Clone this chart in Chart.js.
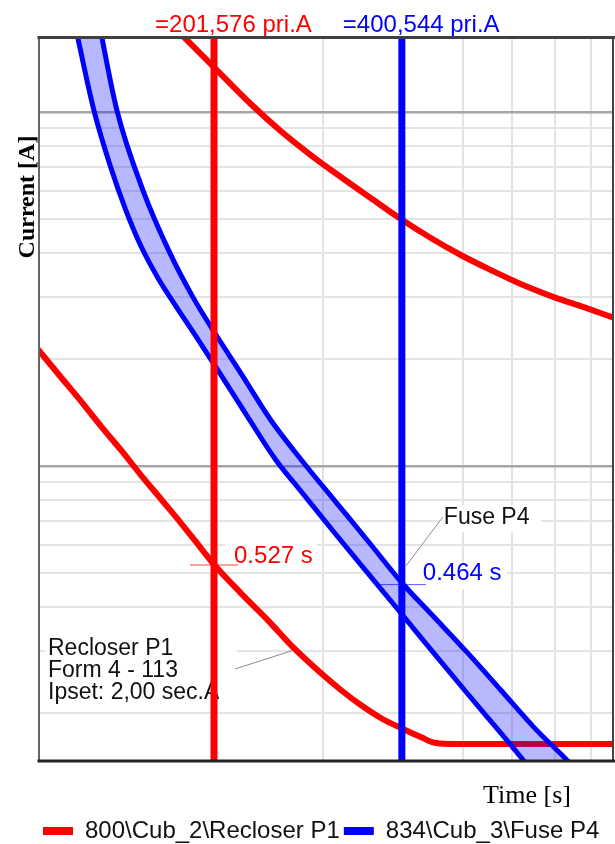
<!DOCTYPE html>
<html>
<head>
<meta charset="utf-8">
<style>
  html, body { margin: 0; padding: 0; background: #ffffff; }
  #wrap { width: 615px; height: 844px; position: relative; }
</style>
<script src="https://cdn.jsdelivr.net/npm/chart.js@4.4.1/dist/chart.umd.min.js"></script>
</head>
<body>
<div id="wrap"><canvas id="c" width="615" height="844"></canvas></div>
<script>
// ---------- axis ranges and grid values ----------
const xMin = 106.3, xMax = 870;
const yMin = 0.1468, yMax = 16.29;
const xGridValues = [200, 300, 400, 500, 600, 700, 800];
const yGridValues = [0.2, 0.3, 0.4, 0.5, 0.6, 0.7, 0.8, 0.9, 1, 2, 3, 4, 5, 6, 7, 8, 9, 10];
const yMajorValues = [1, 10];

// ---------- Recloser P1 (red) fast curve ----------
const reclFastA = [105.5, 115.1, 123.9, 133.3, 143.4, 154.3, 166.0, 178.6, 192.1, 201.576, 222.3, 245.3, 269.8, 297.9, 320.5, 344.8, 370.9, 399.1, 429.3, 453.5, 487.9, 880];
const reclFastT = [2.154, 1.784, 1.526, 1.297, 1.110, 0.943, 0.807, 0.690, 0.5866, 0.527, 0.4377, 0.3672, 0.3062, 0.260, 0.233, 0.2113, 0.1942, 0.182, 0.1716, 0.165, 0.164, 0.164];

// ---------- Recloser P1 (red) slow curve ----------
const reclSlowA = [178.6, 202.2, 230.6, 257.2, 287.1, 320.5, 357.5, 399.1, 445.3, 496.9, 554.3, 618.7, 698.2, 778.9, 890];
const reclSlowT = [16.6, 13.31, 10.535, 8.838, 7.559, 6.552, 5.714, 4.985, 4.406, 3.945, 3.579, 3.266, 3.00, 2.81, 2.585];

// ---------- Fuse P4 (blue) minimum melt curve ----------
const fuseMinA = [120.8, 129.9, 138.3, 146.0, 154.3, 164.2, 175.3, 188.6, 204.4, 228.1, 252.7, 276.8, 312.4, 353.7, 399.1, 450.2, 509.8, 575.0, 627.8, 653.4];
const fuseMinT = [18.2, 10.13, 6.947, 5.286, 4.183, 3.397, 2.831, 2.329, 1.867, 1.375, 1.040, 0.850, 0.651, 0.498, 0.3844, 0.296, 0.2270, 0.1762, 0.1458, 0.1331];

// ---------- Fuse P4 (blue) total clearing curve ----------
const fuseTotA = [132.1, 141.3, 155.4, 171.5, 186.6, 202.2, 222.3, 248.0, 279.9, 314.7, 354.9, 400.5, 450.2, 509.8, 575.0, 648.7, 734.7, 770.4];
const fuseTotT = [18.2, 10.13, 6.02, 4.00, 3.00, 2.375, 1.831, 1.349, 1.0197, 0.791, 0.610, 0.468, 0.375, 0.296, 0.233, 0.183, 0.1468, 0.134];

// ---------- cursors ----------
const redCursorA = 201.576, blueCursorA = 400.544;
const redTripT = 0.527, blueTripT = 0.464;
const redCursorLabel = '=201,576 pri.A';
const blueCursorLabel = '=400,544 pri.A';
const redTripLabel = '0.527 s';
const blueTripLabel = '0.464 s';
const fuseNote = 'Fuse P4';
const reclNote = ['Recloser P1', 'Form 4 - 113', 'Ipset: 2,00 sec.A'];
const legendNames = ['800\\Cub_2\\Recloser P1', '834\\Cub_3\\Fuse P4'];
const xTitle = 'Time [s]';
const yTitle = 'Current [A]';

const pts = (xs, ys) => xs.map((v, i) => ({ x: v, y: ys[i] }));
const band = pts(fuseMinA, fuseMinT).concat(pts(fuseTotA, fuseTotT).reverse());

const SANS = '"Liberation Sans", Arial, sans-serif';
const SERIF = '"Liberation Serif", "Times New Roman", serif';
Chart.defaults.font.family = SANS;

const common = { showLine: true, pointRadius: 0, pointHoverRadius: 0, clip: 0, borderJoinStyle: 'round', fill: false };
const smooth = { cubicInterpolationMode: 'monotone' };

const datasets = [
  Object.assign({}, common, smooth, { label: legendNames[0], data: pts(reclFastA, reclFastT), borderColor: '#ff0000', backgroundColor: '#ff0000', borderWidth: 6, order: 60 }),
  Object.assign({}, common, smooth, { label: 'slow', data: pts(reclSlowA, reclSlowT), borderColor: '#ff0000', backgroundColor: '#ff0000', borderWidth: 6, order: 60 }),
  Object.assign({}, common, { label: 'band', data: band, borderColor: 'transparent', borderWidth: 1, backgroundColor: 'rgba(0,0,255,0.28)', fill: 'shape', tension: 0.3, order: 50 }),
  Object.assign({}, common, smooth, { label: legendNames[1], data: pts(fuseMinA, fuseMinT), borderColor: '#0000ff', backgroundColor: '#0000ff', borderWidth: 5, order: 40 }),
  Object.assign({}, common, smooth, { label: 'total', data: pts(fuseTotA, fuseTotT), borderColor: '#0000ff', backgroundColor: '#0000ff', borderWidth: 5, order: 40 }),
  Object.assign({}, common, { label: 'redCursor', data: [{ x: redCursorA, y: yMin }, { x: redCursorA, y: yMax }], borderColor: '#ff0000', borderWidth: 7, order: 30 }),
  Object.assign({}, common, { label: 'blueCursor', data: [{ x: blueCursorA, y: yMin }, { x: blueCursorA, y: yMax }], borderColor: '#0000ff', borderWidth: 7, order: 20 })
];
const legendDatasetIdx = [0, 3];

const annotations = {
  id: 'annotations',
  beforeDatasetsDraw(chart) {
    const { ctx, chartArea: a, scales: { x, y } } = chart;
    const rx = x.getPixelForValue(redCursorA), bx = x.getPixelForValue(blueCursorA);
    const ry = y.getPixelForValue(redTripT), by = y.getPixelForValue(blueTripT);
    ctx.save();
    // white label boxes
    ctx.fillStyle = '#ffffff';
    ctx.fillRect(rx + 11, ry - 25, 92, 28);
    ctx.fillRect(bx - 23, by - 20, 128, 25);
    ctx.fillRect(bx + 38, by - 79, 101, 27);
    ctx.fillRect(a.left + 6, 632, rx + 23 - (a.left + 6), 75);
    // cursor trip ticks
    ctx.lineWidth = 1;
    ctx.strokeStyle = 'rgba(255,0,0,0.75)';
    ctx.beginPath(); ctx.moveTo(rx - 24, ry + 0.5); ctx.lineTo(rx + 24, ry + 0.5); ctx.stroke();
    ctx.strokeStyle = 'rgba(40,40,255,0.75)';
    ctx.beginPath(); ctx.moveTo(bx - 23, by + 0.5); ctx.lineTo(bx + 24, by + 0.5); ctx.stroke();
    // leader lines
    ctx.strokeStyle = '#8a8a8a';
    ctx.beginPath(); ctx.moveTo(bx + 41, by - 67); ctx.lineTo(bx + 4, by - 18); ctx.stroke();
    ctx.beginPath(); ctx.moveTo(rx + 21, 669); ctx.lineTo(rx + 80, 650); ctx.stroke();
    ctx.strokeStyle = '#333333';
    ctx.beginPath(); ctx.moveTo(bx - 15, by - 16); ctx.lineTo(bx - 2, by - 7); ctx.stroke();
    // texts inside plot
    ctx.textAlign = 'left';
    ctx.textBaseline = 'alphabetic';
    ctx.font = '24px ' + SANS;
    ctx.fillStyle = '#ff0000';
    ctx.fillText(redTripLabel, rx + 20, ry - 1);
    ctx.fillStyle = '#0000ff';
    ctx.fillText(blueTripLabel, bx + 21, by - 4);
    ctx.font = '23px ' + SANS;
    ctx.fillStyle = '#111111';
    ctx.fillText(fuseNote, bx + 42, by - 60);
    reclNote.forEach((t, i) => ctx.fillText(t, a.left + 9, 655 + i * 22));
    // cursor labels above plot
    ctx.font = '24px ' + SANS;
    ctx.fillStyle = '#ff0000';
    ctx.fillText(redCursorLabel, rx - 59, 32);
    ctx.fillStyle = '#0000ff';
    ctx.fillText(blueCursorLabel, bx - 59, 32);
    // axis titles
    ctx.fillStyle = '#000000';
    ctx.font = '26px ' + SERIF;
    ctx.textAlign = 'center';
    ctx.fillText(xTitle, 527, 803);
    ctx.translate(34, 197);
    ctx.rotate(-Math.PI / 2);
    ctx.font = 'bold 24px ' + SERIF;
    ctx.fillText(yTitle, 0, 0);
    ctx.restore();
  },
  afterDatasetsDraw(chart) {
    const { ctx, chartArea: a } = chart;
    ctx.save();
    ctx.lineCap = 'square';
    ctx.strokeStyle = '#666666'; ctx.lineWidth = 2;
    ctx.beginPath(); ctx.moveTo(a.left, a.top); ctx.lineTo(a.left, a.bottom); ctx.stroke();
    ctx.strokeStyle = '#444444'; ctx.lineWidth = 2;
    ctx.beginPath(); ctx.moveTo(a.right - 1, a.top); ctx.lineTo(a.right - 1, a.bottom); ctx.stroke();
    ctx.strokeStyle = '#404040'; ctx.lineWidth = 3;
    ctx.beginPath(); ctx.moveTo(a.left, a.top + 0.5); ctx.lineTo(a.right, a.top + 0.5); ctx.stroke();
    ctx.strokeStyle = '#222222'; ctx.lineWidth = 3;
    ctx.beginPath(); ctx.moveTo(a.left, a.bottom); ctx.lineTo(a.right, a.bottom); ctx.stroke();
    ctx.restore();
  }
};

new Chart(document.getElementById('c'), {
  type: 'scatter',
  data: { datasets },
  options: {
    responsive: false,
    animation: false,
    events: [],
    layout: { autoPadding: false, padding: { top: 37, left: 39, right: 1, bottom: -9 } },
    scales: {
      x: {
        type: 'logarithmic', min: xMin, max: xMax, bounds: 'data',
        ticks: { display: false },
        border: { display: false },
        grid: { drawTicks: false, color: '#e3e3e3', lineWidth: 2 },
        afterBuildTicks: s => { s.ticks = xGridValues.map(v => ({ value: v })); },
        afterFit: s => { s.height = 54; }
      },
      y: {
        type: 'logarithmic', min: yMin, max: yMax, bounds: 'data',
        ticks: { display: false },
        border: { display: false },
        grid: {
          drawTicks: false,
          color: c => (c.tick && yMajorValues.includes(c.tick.value)) ? '#a6a6a6' : '#e4e4e4',
          lineWidth: c => (c.tick && yMajorValues.includes(c.tick.value)) ? 2.5 : 2
        },
        afterBuildTicks: s => { s.ticks = yGridValues.map(v => ({ value: v })); },
        afterFit: s => { s.width = 0; }
      }
    },
    plugins: {
      tooltip: { enabled: false },
      legend: {
        display: true,
        position: 'bottom',
        align: 'start',
        labels: {
          boxWidth: 30, boxHeight: 8, padding: 4, color: '#111111',
          font: { family: SANS, size: 24 },
          sort: (a, b) => a.datasetIndex - b.datasetIndex,
          generateLabels: chart => Chart.defaults.plugins.legend.labels.generateLabels(chart)
            .filter(it => legendDatasetIdx.includes(it.datasetIndex))
            .map(it => Object.assign(it, { lineWidth: 0, fillStyle: chart.data.datasets[it.datasetIndex].borderColor }))
        }
      }
    }
  },
  plugins: [annotations]
});
</script>
</body>
</html>
